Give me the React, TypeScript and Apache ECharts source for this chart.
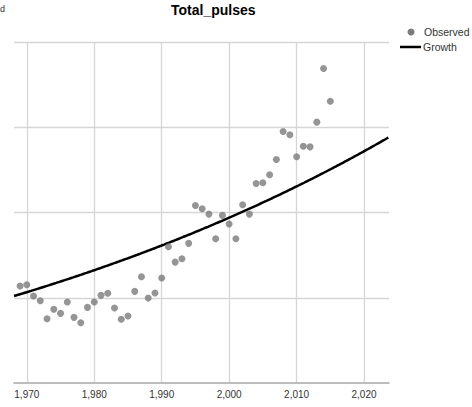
import React, { useEffect, useRef } from "react";
import * as echarts from "echarts";

// Observed yearly totals (one point per year)
const years: number[] = [
  1969, 1970, 1971, 1972, 1973, 1974, 1975, 1976, 1977, 1978,
  1979, 1980, 1981, 1982, 1983, 1984, 1985, 1986, 1987, 1988,
  1989, 1990, 1991, 1992, 1993, 1994, 1995, 1996, 1997, 1998,
  1999, 2000, 2001, 2002, 2003, 2004, 2005, 2006, 2007, 2008,
  2009, 2010, 2011, 2012, 2013, 2014, 2015,
];
const observed: number[] = [
  2137, 2152, 2020, 1965, 1754, 1864, 1817, 1950, 1770, 1707,
  1887, 1950, 2028, 2052, 1879, 1747, 1785, 2075, 2246, 1996,
  2055, 2231, 2598, 2418, 2457, 2638, 3083, 3043, 2981, 2692,
  2966, 2864, 2692, 3090, 2981, 3341, 3348, 3442, 3622, 3951,
  3911, 3653, 3778, 3770, 4060, 4689, 4306,
];

// Growth model coefficients: y = exp(b0 + b1 * year)
const GROWTH_B0 = -15.5321;
const GROWTH_B1 = 0.011759;

// Axis ranges
const X_MIN = 1968.1;
const X_MAX = 2023.7;
const Y_MIN = 1000;
const Y_MAX = 5000;
const Y_STEP = 1000;

const growth = (t: number) => Math.exp(GROWTH_B0 + GROWTH_B1 * t);

const fmtYear = (v: number) => {
  const s = String(Math.round(v));
  return s.length > 3 ? s.slice(0, s.length - 3) + "," + s.slice(-3) : s;
};

export default function App() {
  const ref = useRef<HTMLDivElement>(null);

  useEffect(() => {
    if (!ref.current) return;
    const chart = echarts.init(ref.current, undefined, { renderer: "svg" });

    const curve: [number, number][] = [];
    for (let t = X_MIN; t <= X_MAX + 1e-9; t += 0.25) {
      curve.push([t, growth(t)]);
    }

    const font = "'Liberation Sans', Arial, sans-serif";

    chart.setOption({
      animation: false,
      backgroundColor: "#ffffff",
      textStyle: { fontFamily: font },
      title: {
        text: "Total_pulses",
        left: 171,
        top: 3,
        padding: 0,
        textStyle: { fontSize: 14, fontWeight: "bold", color: "#000", fontFamily: font },
      },
      grid: { left: 14, right: 83, top: 42, bottom: 24, containLabel: false },
      xAxis: {
        type: "value",
        min: X_MIN,
        max: X_MAX,
        splitNumber: 5,
        minInterval: 10,
        maxInterval: 10,
        axisLine: { show: true, lineStyle: { color: "#a8a8a8", width: 1.5 } },
        axisTick: { show: false },
        axisLabel: {
          showMinLabel: false,
          showMaxLabel: false,
          fontSize: 10,
          color: "#333",
          margin: 6,
          formatter: (v: number) => fmtYear(v),
        },
        splitLine: {
          show: true,
          showMinLine: false,
          showMaxLine: false,
          lineStyle: { color: "#d6d6d6", width: 1.3 },
        },
      },
      yAxis: {
        type: "value",
        min: Y_MIN,
        max: Y_MAX,
        interval: Y_STEP,
        axisLine: { show: false },
        axisTick: { show: false },
        axisLabel: { show: false },
        splitLine: {
          show: true,
          showMinLine: false,
          lineStyle: { color: "#d6d6d6", width: 1.3 },
        },
      },
      series: [
        {
          name: "Observed",
          type: "scatter",
          data: years.map((y, i) => [y, observed[i]]),
          symbol: "circle",
          symbolSize: 7,
          itemStyle: { color: "#7b7b7b" },
          z: 3,
        },
        {
          name: "Growth",
          type: "line",
          data: curve,
          symbol: "none",
          showSymbol: false,
          lineStyle: { color: "#000", width: 2.5 },
          itemStyle: { color: "#000" },
          z: 2,
        },
      ],
      graphic: [
        {
          type: "text",
          left: 0,
          top: 4,
          style: { text: "d", fontSize: 9, fill: "#333", fontFamily: font },
        },
        // legend
        {
          type: "circle",
          shape: { cx: 411, cy: 32, r: 3.5 },
          style: { fill: "#7b7b7b" },
        },
        {
          type: "text",
          x: 424,
          y: 32,
          style: {
            text: "Observed",
            fontSize: 10.5,
            fill: "#333",
            fontFamily: font,
            verticalAlign: "middle",
          },
        },
        {
          type: "line",
          shape: { x1: 400, y1: 47, x2: 421, y2: 47 },
          style: { stroke: "#000", lineWidth: 2.5 },
        },
        {
          type: "text",
          x: 423,
          y: 47,
          style: {
            text: "Growth",
            fontSize: 10.5,
            fill: "#333",
            fontFamily: font,
            verticalAlign: "middle",
          },
        },
      ],
    });

    return () => chart.dispose();
  }, []);

  return (
    <div
      ref={ref}
      style={{ position: "fixed", left: 0, top: 0, width: 472, height: 407 }}
    />
  );
}
